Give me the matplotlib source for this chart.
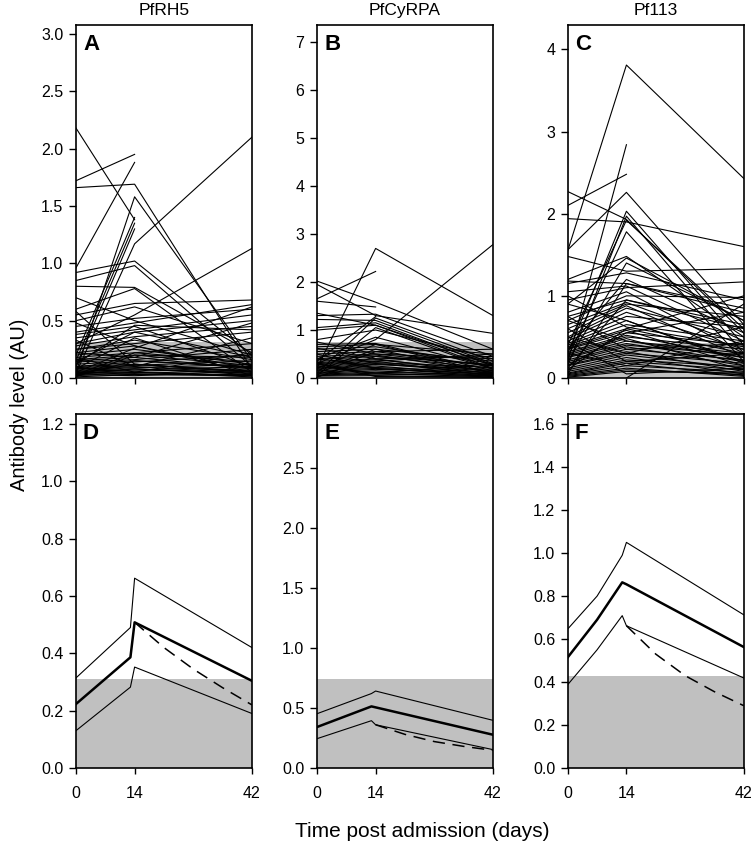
import matplotlib.pyplot as plt
import numpy as np

nan = np.nan

# individual antibody trajectories (day 0, day 14, day 42)
days_ind = [0, 14, 42]

rh5_d0 = [1.72, 1.66, 0.05, 2.18, 0.96, 0.04, 0.10, 0.20, 0.15, 0.92, 0.85, 0.30, 0.80, 0.60, 0.55,
          0.50, 0.45, 0.40, 0.38, 0.35, 0.30, 0.28, 0.25, 0.22, 0.20, 0.18, 0.16, 0.15, 0.14, 0.12,
          0.10, 0.10, 0.09, 0.08, 0.08, 0.07, 0.06, 0.06, 0.05, 0.05, 0.04, 0.04, 0.03, 0.03, 0.02,
          0.02, 0.01, 0.01, 0.12, 0.25, 0.33, 0.18, 0.08, 0.05, 0.22, 0.14, 0.03, 0.48, 0.58, 0.70]
rh5_d14 = [1.95, 1.69, 1.58, 1.38, 1.88, 1.17, 1.30, 1.40, 1.35, 1.02, 0.98, 0.55, 0.79, 0.78, 0.65,
           0.62, 0.52, 0.48, 0.45, 0.42, 0.40, 0.36, 0.30, 0.28, 0.25, 0.22, 0.20, 0.18, 0.16, 0.15,
           0.14, 0.12, 0.11, 0.10, 0.09, 0.08, 0.07, 0.06, 0.05, 0.04, 0.12, 0.03, 0.08, 0.02, 0.05,
           0.15, 0.03, 0.20, 0.46, 0.33, 0.10, 0.05, 0.35, 0.26, 0.18, 0.40, 0.22, 0.28, 0.12, 0.50]
rh5_d42 = [nan, 0.08, 0.15, nan, nan, 2.10, nan, nan, nan, 0.20, 0.10, 1.13, 0.22, 0.05, 0.68,
           0.30, 0.60, 0.64, 0.10, 0.55, 0.50, 0.45, 0.40, 0.05, 0.12, 0.30, 0.18, 0.08, 0.25, 0.10,
           0.20, 0.06, 0.15, 0.04, 0.12, 0.03, 0.10, 0.08, 0.02, 0.07, 0.05, 0.02, 0.04, 0.06, 0.01,
           0.09, 0.03, 0.11, 0.42, 0.16, 0.35, 0.22, 0.02, 0.62, 0.48, 0.18, 0.14, 0.08, 0.05, 0.20]

cyrpa_d0 = [0.20, 1.65, 2.02, 1.95, 0.30, 1.60, 1.30, 1.22, 1.05, 1.00, 0.10, 0.05, 0.80, 0.70, 0.65,
            0.60, 0.55, 0.50, 0.45, 0.40, 0.38, 0.35, 0.32, 0.30, 0.28, 0.25, 0.22, 0.20, 0.18, 0.15,
            0.12, 0.10, 0.08, 0.06, 0.05, 0.04, 0.03, 0.02, 0.15, 0.40, 0.25, 0.50, 0.10, 0.62, 0.30,
            0.20, 0.75, 0.08, 1.35, 0.35]
cyrpa_d14 = [2.70, 2.22, 1.58, 1.30, 0.80, 1.48, 1.33, 1.20, 1.15, 1.10, 1.25, 1.05, 1.00, 0.72, 0.70,
             0.65, 0.60, 0.55, 0.50, 0.48, 0.45, 0.40, 0.38, 0.35, 0.32, 0.30, 0.28, 0.25, 0.22, 0.20,
             0.18, 0.15, 0.12, 0.10, 0.08, 0.05, 0.30, 0.45, 0.60, 0.85, 0.10, 0.20, 0.55, 0.40, 0.03,
             0.70, 0.50, 0.35, 1.10, 1.28]
cyrpa_d42 = [1.30, nan, 0.60, 0.93, 2.78, nan, 0.45, 0.30, 0.25, 0.20, 0.35, 0.18, 0.40, 0.15, 0.50,
             0.30, 0.10, 0.25, 0.40, 0.12, 0.20, 0.08, 0.15, 0.05, 0.22, 0.10, 0.18, 0.06, 0.12, 0.04,
             0.09, 0.03, 0.07, 0.02, 0.05, 0.01, 0.14, 0.28, 0.35, 0.20, 0.30, 0.08, 0.60, 0.45, 0.02,
             0.10, 0.25, 0.50, 0.28, nan]

pf113_d0 = [1.55, 0.20, 2.10, 2.27, 1.56, 1.94, 0.30, 0.15, 0.40, 0.25, 1.20, 0.90, 1.48, 1.15, 1.18,
            1.05, 0.95, 0.80, 0.70, 0.75, 0.65, 0.60, 0.55, 0.50, 0.48, 0.45, 0.42, 0.40, 0.38, 0.36,
            0.35, 0.32, 0.30, 0.28, 0.26, 0.25, 0.22, 0.20, 0.18, 0.16, 0.15, 0.12, 0.10, 0.08, 0.06,
            0.05, 0.04, 0.03, 0.02, 0.01, nan, 0.10, 0.05, 0.20, 0.75, 0.60, 1.00, 0.50, 0.30, 0.12,
            0.35, 0.45, 0.70, 0.90, 0.15]
pf113_d14 = [3.81, 2.84, 2.48, 1.93, 2.26, 1.90, 2.03, 1.97, 1.92, 1.78, 1.48, 1.46, 1.30, 1.28, 1.15,
             1.12, 1.10, 1.05, 1.00, 0.95, 0.92, 0.90, 0.88, 0.85, 0.80, 0.75, 0.70, 0.65, 0.60, 0.58,
             0.55, 0.52, 0.50, 0.48, 0.45, 0.42, 0.40, 0.38, 0.35, 0.32, 0.30, 0.28, 0.25, 0.22, 0.20,
             0.18, 0.15, 0.12, 0.10, 0.08, 0.00, 0.60, 1.15, 1.40, 0.35, 0.20, 0.62, 0.30, 0.15, 0.95,
             1.20, 0.05, 0.45, 0.70, 0.55]
pf113_d42 = [2.43, nan, nan, 0.55, 0.65, 1.60, 0.40, 0.30, 0.60, 0.20, 0.50, 0.70, 1.33, 0.95, 0.80,
             0.45, 1.17, 0.30, 0.98, 0.60, 0.40, 0.75, 0.25, 0.50, 0.35, 0.62, 0.20, 0.45, 0.30, 0.15,
             0.40, 0.25, 0.35, 0.10, 0.30, 0.20, 0.28, 0.15, 0.22, 0.08, 0.18, 0.12, 0.05, 0.14, 0.10,
             0.03, 0.07, 0.02, 0.04, 0.06, 0.90, 1.00, 0.85, 0.70, 0.42, 0.30, 0.38, 0.62, 0.45, 0.65,
             0.55, 0.12, 0.25, 0.18, 0.80]

# modelled means (thick), 95% CI (thin) and decay curve (dashed)
rh5_days = [0, 13, 14, 42]
rh5_mean = [0.223, 0.386, 0.508, 0.304]
rh5_upper = [0.314, 0.49, 0.662, 0.42]
rh5_lower = [0.13, 0.282, 0.352, 0.19]
rh5_dash_days = [14, 21, 28, 35, 42]
rh5_dash = [0.508, 0.42, 0.345, 0.28, 0.22]

cyrpa_days = [0, 13, 14, 42]
cyrpa_mean = [0.341, 0.513, 0.505, 0.277]
cyrpa_upper = [0.452, 0.62, 0.641, 0.397]
cyrpa_lower = [0.244, 0.394, 0.36, 0.153]
cyrpa_dash_days = [14, 21, 28, 35, 42]
cyrpa_dash = [0.36, 0.28, 0.22, 0.18, 0.147]

pf113_days = [0, 7, 13, 14, 42]
pf113_mean = [0.515, 0.69, 0.864, 0.855, 0.563]
pf113_upper = [0.647, 0.80, 0.99, 1.05, 0.713]
pf113_lower = [0.388, 0.55, 0.709, 0.662, 0.419]
pf113_dash_days = [14, 21, 28, 35, 42]
pf113_dash = [0.662, 0.53, 0.43, 0.355, 0.29]

# seropositivity thresholds (grey)
thresholds = [0.31, 0.74, 0.43]

antigens = ["PfRH5", "PfCyRPA", "Pf113"]
top_ylim = [3.08, 7.36, 4.30]
top_ticks = [np.arange(0, 3.01, 0.5), np.arange(0, 8), np.arange(0, 5)]
bot_ylim = [1.235, 2.95, 1.648]
bot_ticks = [np.arange(0, 1.21, 0.2), np.arange(0, 2.51, 0.5), np.arange(0, 1.61, 0.2)]
top_fmt = ["%.1f", "%d", "%d"]

ind_data = [(rh5_d0, rh5_d14, rh5_d42), (cyrpa_d0, cyrpa_d14, cyrpa_d42),
            (pf113_d0, pf113_d14, pf113_d42)]
model_data = [
    (rh5_days, rh5_mean, rh5_upper, rh5_lower, rh5_dash_days, rh5_dash),
    (cyrpa_days, cyrpa_mean, cyrpa_upper, cyrpa_lower, cyrpa_dash_days, cyrpa_dash),
    (pf113_days, pf113_mean, pf113_upper, pf113_lower, pf113_dash_days, pf113_dash),
]

plt.rcParams['font.family'] = ['Liberation Sans', 'DejaVu Sans']

fig = plt.figure(figsize=(7.52, 8.43), dpi=100)
lefts = [0.101, 0.4215, 0.755]
w = 0.234
letters_top = ["A", "B", "C"]
letters_bot = ["D", "E", "F"]

for i in range(3):
    # top row: individual trajectories
    ax = fig.add_axes([lefts[i], 0.5516, w, 0.419])
    ax.axhspan(0, thresholds[i], color="#c0c0c0", lw=0, zorder=0)
    d0, d14, d42 = ind_data[i]
    for a, b, c in zip(d0, d14, d42):
        ax.plot(days_ind, [a, b, c], color="black", lw=0.8, zorder=2)
    ax.set_xlim(0, 42)
    ax.set_ylim(0, top_ylim[i])
    ax.set_yticks(top_ticks[i])
    ax.set_yticklabels([top_fmt[i] % t for t in top_ticks[i]])
    ax.set_xticks([0, 14, 42])
    ax.set_xticklabels([])
    ax.set_title(antigens[i], fontsize=12.5, pad=7)
    ax.text(0.04, 0.975, letters_top[i], transform=ax.transAxes, fontsize=16,
            fontweight="bold", va="top", ha="left")

    # bottom row: model fits
    ax2 = fig.add_axes([lefts[i], 0.089, w, 0.42])
    ax2.axhspan(0, thresholds[i], color="#c0c0c0", lw=0, zorder=0)
    days, mean, up, lo, ddays, dash = model_data[i]
    ax2.plot(days, mean, color="black", lw=1.8, zorder=3)
    ax2.plot(days, up, color="black", lw=0.8, zorder=3)
    ax2.plot(days, lo, color="black", lw=0.8, zorder=3)
    ax2.plot(ddays, dash, color="black", lw=1.1, ls=(0, (8, 5)), zorder=3)
    ax2.set_xlim(0, 42)
    ax2.set_ylim(0, bot_ylim[i])
    ax2.set_yticks(bot_ticks[i])
    ax2.set_yticklabels(["%.1f" % t for t in bot_ticks[i]])
    ax2.set_xticks([0, 14, 42])
    ax2.text(0.04, 0.975, letters_bot[i], transform=ax2.transAxes, fontsize=16,
             fontweight="bold", va="top", ha="left")

    for a_ in (ax, ax2):
        for s in a_.spines.values():
            s.set_linewidth(1.2)
        a_.tick_params(axis="y", direction="out", length=5, width=1.0, labelsize=11.5, pad=4)
        a_.tick_params(axis="x", direction="out", length=4, width=1.0, labelsize=11.5, pad=9)

fig.text(0.013, 0.52, "Antibody level (AU)", rotation=90, va="center", ha="left", fontsize=14.5)
fig.text(0.561, 0.0135, "Time post admission (days)", ha="center", va="center", fontsize=15)

fig.savefig("out.png", dpi=100)
